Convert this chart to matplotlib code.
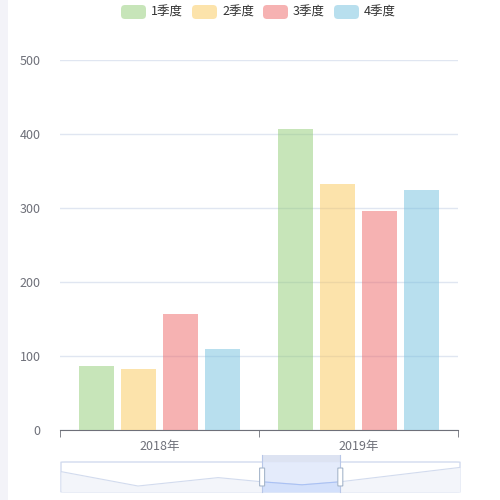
import matplotlib.pyplot as plt
from matplotlib.patches import FancyBboxPatch, Rectangle
import numpy as np

plt.rcParams['font.family'] = ['Noto Sans CJK SC', 'DejaVu Sans']

# datos
years = ["2018年", "2019年"]
series = ["1季度", "2季度", "3季度", "4季度"]
values = [
    [86, 407],
    [82, 332],
    [157, 296],
    [109, 324],
]
colors = ["#91cc75", "#fac858", "#ee6666", "#73c0de"]
# sombra del dataZoom (valores normalizados)
shadow = [0.68, 0.2, 0.48, 0.34, 0.24, 0.34, 0.82]
shadow_x = [0.0, 0.193, 0.394, 0.504, 0.604, 0.699, 1.0]
zoom_range = (0.504, 0.70)

fig = plt.figure(figsize=(5, 5), dpi=100)
W, H = 500, 500

# franja gris a la izquierda
fig.add_artist(Rectangle((0, 0), 8 / W, 1, transform=fig.transFigure,
                         color="#f3f3f8", lw=0, zorder=0))

ax = fig.add_axes([60 / W, 1 - 430 / H, 398 / W, 370 / H])
x = np.arange(len(years))
bw = 35 / 199
gap = 7 / 199
n = len(series)
for i in range(n):
    off = (i - (n - 1) / 2) * (bw + gap)
    ax.bar(x + off, values[i], width=bw, color=colors[i], alpha=0.5,
           edgecolor="none", zorder=3)

ax.set_xlim(-0.5, 1.5)
ax.set_ylim(0, 500)
ax.set_yticks(range(0, 501, 100))
ax.yaxis.grid(True, color="#e0e6f1", lw=1, zorder=0)
ax.tick_params(axis="y", length=0, labelsize=9, colors="#6e7079", pad=14)
ax.set_xticks(x)
ax.set_xticklabels(years)
ax.tick_params(axis="x", length=0, labelsize=9, colors="#6e7079", pad=7)
ax.set_xticks([-0.5, 0.5, 1.5], minor=True)
ax.tick_params(axis="x", which="minor", length=5, color="#6e7079")
for s in ["top", "right", "left"]:
    ax.spines[s].set_visible(False)
ax.spines["bottom"].set_color("#6e7079")

# leyenda
icon_x = [121, 192, 263, 334]
for i, name in enumerate(series):
    fig.add_artist(FancyBboxPatch(
        (icon_x[i] / W, 1 - 19 / H), 25 / W, 14 / H,
        boxstyle="round,pad=0,rounding_size=0.008",
        transform=fig.transFigure, color=colors[i], alpha=0.5, lw=0))
    fig.text((icon_x[i] + 30) / W, 1 - 12 / H, name, fontsize=9,
             color="#333333", va="center", ha="left")

# dataZoom
zax = fig.add_axes([61 / W, 1 - 492 / H, 399 / W, 30 / H])
zax.set_xlim(0, 1)
zax.set_ylim(0, 1)
zax.axis("off")
zax.add_patch(FancyBboxPatch((0, 0), 1, 1, boxstyle="round,pad=0,rounding_size=0.01",
                             fc="none", ec="#d2dbee", lw=1, clip_on=False))
zax.fill_between(shadow_x, 0, shadow, color="#f3f5fa", lw=0)
zax.plot(shadow_x, shadow, color="#d2dbee", lw=0.8)
a, b = zoom_range
zax.add_patch(Rectangle((a, 0), b - a, 1, color="#e2e9fb", alpha=0.9, lw=0))
sx = [v for v in shadow_x if a <= v <= b]
sy = [s for v, s in zip(shadow_x, shadow) if a <= v <= b]
zax.fill_between(sx, 0, sy, color="#d3e0fb", lw=0)
zax.plot(sx, sy, color="#a9c1f5", lw=0.8)
zax.add_patch(Rectangle((a, 1), b - a, 7 / 30, color="#dde3f2", lw=0, clip_on=False))
for h in (a, b):
    zax.plot([h, h], [0, 1.23], color="#b8c7e8", lw=0.8, clip_on=False)
    zax.add_patch(FancyBboxPatch((h - 2.5 / 399, 0.2), 5 / 399, 0.6,
                                 boxstyle="round,pad=0,rounding_size=0.004",
                                 fc="white", ec="#a7b7cc", lw=0.8, zorder=5))

fig.savefig("out.png", dpi=100)
